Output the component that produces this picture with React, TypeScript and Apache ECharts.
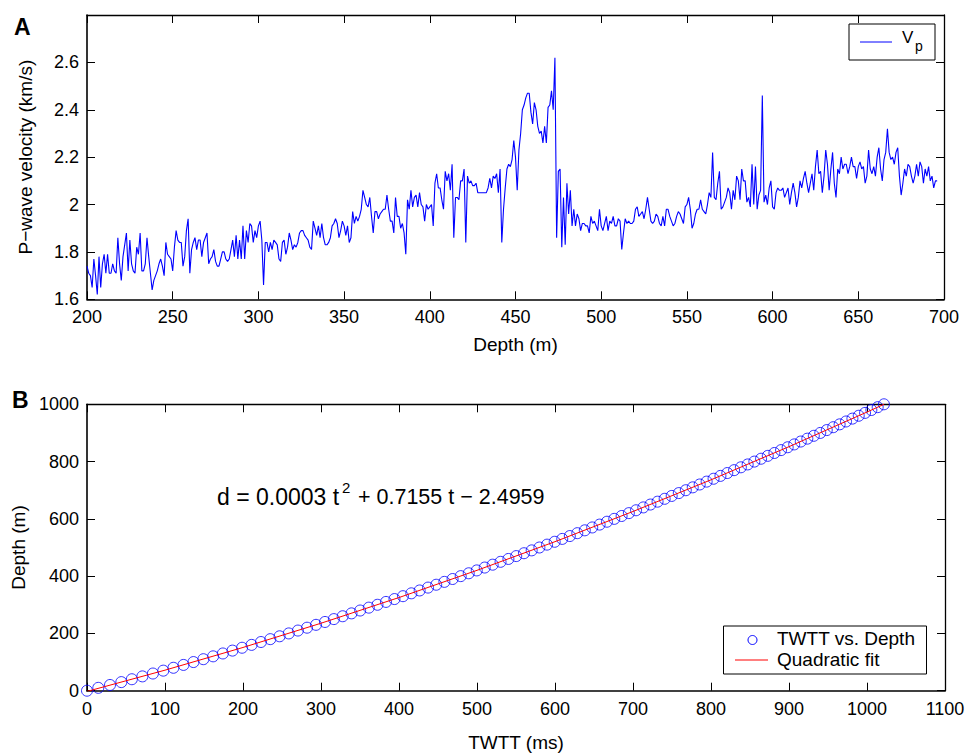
import React, { useEffect, useRef } from "react";
import * as echarts from "echarts";

// ---------- Panel A: P-wave velocity log (km/s), one value per metre from 200 m ----------
const vpDepthStart = 200; // m
const vpDepthStep = 1; // m
const vpValues: number[] = [
  // 200-209
  1.74, 1.71, 1.7, 1.65, 1.77, 1.7, 1.62, 1.78, 1.65, 1.75,
  // 210-219
  1.79, 1.71, 1.79, 1.71, 1.71, 1.75, 1.72, 1.71, 1.86, 1.75,
  // 220-229
  1.68, 1.78, 1.83, 1.88, 1.72, 1.85, 1.75, 1.72, 1.71, 1.82,
  // 230-239
  1.79, 1.88, 1.72, 1.72, 1.75, 1.86, 1.78, 1.71, 1.64, 1.68,
  // 240-249
  1.7, 1.72, 1.75, 1.77, 1.74, 1.7, 1.84, 1.79, 1.78, 1.77,
  // 250-259
  1.72, 1.82, 1.89, 1.85, 1.84, 1.84, 1.74, 1.78, 1.89, 1.94,
  // 260-269
  1.71, 1.81, 1.84, 1.86, 1.81, 1.85, 1.85, 1.78, 1.84, 1.86,
  // 270-279
  1.88, 1.75, 1.77, 1.78, 1.81, 1.76, 1.74, 1.74, 1.77, 1.8,
  // 280-289
  1.8, 1.77, 1.76, 1.77, 1.81, 1.85, 1.78, 1.87, 1.77, 1.85,
  // 290-299
  1.77, 1.91, 1.77, 1.89, 1.84, 1.92, 1.91, 1.84, 1.89, 1.86,
  // 300-309
  1.91, 1.93, 1.85, 1.66, 1.84, 1.84, 1.8, 1.84, 1.81, 1.85,
  // 310-319
  1.84, 1.83, 1.77, 1.76, 1.84, 1.85, 1.79, 1.82, 1.88, 1.85,
  // 320-329
  1.81, 1.83, 1.82, 1.84, 1.88, 1.89, 1.89, 1.87, 1.86, 1.85,
  // 330-339
  1.82, 1.81, 1.93, 1.9, 1.87, 1.91, 1.86, 1.92, 1.86, 1.83,
  // 340-349
  1.83, 1.84, 1.86, 1.91, 1.92, 1.94, 1.92, 1.86, 1.89, 1.93,
  // 350-359
  1.91, 1.87, 1.91, 1.84, 1.86, 1.97, 1.92, 1.95, 1.93, 1.95,
  // 360-369
  1.98, 2.06, 2.03, 2.0, 1.99, 2.03, 1.95, 1.88, 1.97, 1.97,
  // 370-379
  1.94, 1.96, 1.97, 1.98, 1.98, 2.04, 1.98, 1.93, 1.93, 1.88,
  // 380-389
  2.03, 1.95, 1.95, 1.9, 1.92, 1.88, 1.79, 2.02, 1.98, 2.06,
  // 390-399
  1.99, 2.03, 2.04, 1.99, 2.05, 2.0, 1.99, 1.93, 2.0, 1.98,
  // 400-409
  1.99, 2.0, 1.91, 2.09, 2.13, 2.07, 2.07, 2.02, 1.98, 2.14,
  // 410-419
  2.1, 2.13, 2.06, 2.17, 1.86, 2.03, 2.03, 2.02, 2.1, 2.1,
  // 420-429
  2.15, 1.84, 2.12, 2.09, 2.1, 2.08, 2.08, 2.09, 2.05, 2.05,
  // 430-439
  2.05, 2.05, 2.05, 2.05, 2.07, 2.11, 2.07, 2.12, 2.11, 2.13,
  // 440-449
  2.05, 2.15, 1.84, 1.98, 2.07, 2.15, 2.17, 2.16, 2.19, 2.27,
  // 450-459
  2.2, 2.06, 2.23, 2.3, 2.4, 2.42, 2.45, 2.47, 2.47, 2.39,
  // 460-469
  2.34, 2.43, 2.4, 2.33, 2.3, 2.31, 2.26, 2.33, 2.26, 2.41,
  // 470-479
  2.42, 2.48, 2.4, 2.62, 1.86, 2.14, 2.15, 1.82, 2.03, 1.83,
  // 480-489
  2.09, 1.96, 2.06, 1.91, 1.98, 1.91, 1.96, 1.94, 1.89, 1.92,
  // 490-499
  1.92, 1.91, 1.91, 1.88, 1.95, 1.92, 1.93, 1.91, 1.89, 1.98,
  // 500-509
  1.91, 1.89, 1.92, 1.95, 1.89, 1.93, 1.92, 1.95, 1.91, 1.91,
  // 510-519
  1.94, 1.93, 1.81, 1.88, 1.94, 1.92, 1.93, 1.92, 1.92, 1.93,
  // 520-529
  1.98, 1.99, 1.95, 1.96, 1.97, 1.94, 1.98, 2.03, 1.98, 1.93,
  // 530-539
  1.92, 1.93, 1.96, 1.95, 1.92, 1.91, 1.95, 1.91, 1.98, 1.98,
  // 540-549
  1.95, 1.93, 1.91, 1.92, 1.95, 1.97, 1.96, 1.94, 1.92, 1.99,
  // 550-559
  2.0, 2.03, 1.98, 1.9, 1.92, 1.96, 1.98, 1.98, 2.02, 1.98,
  // 560-569
  1.97, 1.96, 2.0, 2.05, 2.03, 2.22, 2.03, 2.02, 2.09, 2.14,
  // 570-579
  1.98, 1.99, 2.01, 2.03, 2.07, 2.05, 1.98, 2.06, 2.02, 2.12,
  // 580-589
  2.1, 2.02, 2.15, 2.1, 2.1, 2.01, 2.03, 1.99, 2.17, 2.0,
  // 590-599
  2.16, 1.98, 2.04, 2.06, 2.46, 2.01, 2.04, 2.0, 2.07, 2.1,
  // 600-609
  1.99, 1.98, 2.05, 2.07, 2.06, 2.06, 2.07, 2.03, 2.05, 2.07,
  // 610-619
  2.0, 2.05, 2.09, 2.05, 1.99, 2.03, 2.1, 2.07, 2.11, 2.14,
  // 620-629
  2.09, 2.05, 2.09, 2.13, 2.06, 2.16, 2.23, 2.13, 2.14, 2.05,
  // 630-639
  2.12, 2.23, 2.17, 2.06, 2.15, 2.22, 2.09, 2.03, 2.15, 2.13,
  // 640-649
  2.2, 2.15, 2.17, 2.17, 2.13, 2.16, 2.2, 2.16, 2.16, 2.11,
  // 650-659
  2.16, 2.18, 2.15, 2.16, 2.09, 2.12, 2.23, 2.15, 2.13, 2.16,
  // 660-669
  2.12, 2.2, 2.24, 2.15, 2.1, 2.19, 2.22, 2.32, 2.22, 2.19,
  // 670-679
  2.2, 2.17, 2.22, 2.24, 2.12, 2.04, 2.09, 2.15, 2.12, 2.17,
  // 680-689
  2.16, 2.12, 2.09, 2.12, 2.17, 2.12, 2.18, 2.16, 2.09, 2.15,
  // 690-696
  2.12, 2.16, 2.1, 2.12, 2.07, 2.1, 2.1,
];

// ---------- Panel B: TWTT (ms) vs depth (m) ----------
const tdDepths: number[] = [
  0, 10, 20, 30, 40, 50, 60, 70, 80, 90,
  100, 110, 120, 130, 140, 150, 160, 170, 180, 190,
  200, 210, 220, 230, 240, 250, 260, 270, 280, 290,
  300, 310, 320, 330, 340, 350, 360, 370, 380, 390,
  400, 410, 420, 430, 440, 450, 460, 470, 480, 490,
  500, 510, 520, 530, 540, 550, 560, 570, 580, 590,
  600, 610, 620, 630, 640, 650, 660, 670, 680, 690,
  700, 710, 720, 730, 740, 750, 760, 770, 780, 790,
  800, 810, 820, 830, 840, 850, 860, 870, 880, 890,
  900, 910, 920, 930, 940, 950, 960, 970, 980, 990,
  1000,
];
const tdTwtt: number[] = [
  0, 14.5, 29.5, 44, 57.5, 71, 84.5, 97.8, 110.8, 123.7,
  136.5, 149.2, 161.7, 174.2, 186.5, 198.8, 211.0, 223.0, 235.0, 246.9,
  258.7, 270.4, 282.1, 293.6, 305.1, 316.5, 327.8, 339.1, 350.2, 361.3,
  372.4, 383.3, 394.2, 405.1, 415.8, 426.5, 437.2, 447.7, 458.2, 468.7,
  479.1, 489.4, 499.7, 509.9, 520.1, 530.2, 540.3, 550.3, 560.2, 570.1,
  580.0, 589.8, 599.6, 609.3, 619.0, 628.6, 638.2, 647.7, 657.2, 666.6,
  676.0, 685.4, 694.7, 703.9, 713.2, 722.3, 731.5, 740.6, 749.6, 758.7,
  767.7, 776.6, 785.5, 794.4, 803.3, 812.1, 820.9, 829.6, 838.3, 847.0,
  855.6, 864.2, 872.8, 881.3, 889.8, 898.3, 906.7, 915.1, 923.5, 931.8,
  940.1, 948.4, 956.7, 964.9, 973.1, 981.3, 989.4, 997.5, 1005.6, 1013.7,
  1021.7,
];
// Quadratic fit curve
const fitTwtt: number[] = [0, 100, 200, 300, 400, 500, 600, 700, 800, 900, 1000, 1022];
const fitDepth: number[] = [-2.5, 71.7, 151.0, 235.6, 325.3, 420.3, 520.4, 625.8, 736.3, 852.1, 973.0, 1000.3];

const FONT = '"Liberation Sans", Arial, Helvetica, sans-serif';
const BLUE = "#0000ff";
const RED = "#ff0000";

const plainNum = (v: number) => String(Math.round(v * 1000) / 1000);

function makeAxis(gridIndex: number, position: string, min: number, max: number, interval: number, showLabel: boolean, extra: any = {}) {
  return {
    gridIndex,
    type: "value",
    position,
    min,
    max,
    interval,
    axisLine: { show: true, onZero: false, lineStyle: { color: "#000", width: showLabel ? 1.6 : 1.3 } },
    axisTick: { show: true, inside: true, length: 8, lineStyle: { color: "#000", width: 1 } },
    axisLabel: { show: showLabel, color: "#000", fontSize: 18, fontFamily: FONT, margin: 8, formatter: plainNum },
    splitLine: { show: false },
    ...extra,
  };
}

export default function App() {
  const ref = useRef<HTMLDivElement>(null);

  useEffect(() => {
    if (!ref.current) return;
    const chart = echarts.init(ref.current, undefined, { renderer: "svg" });

    const vpData = vpValues.map((v, i) => [vpDepthStart + i * vpDepthStep, v]);
    const tdData = tdTwtt.map((t, i) => [t, tdDepths[i]]);
    const fitData = fitTwtt.map((t, i) => [t, fitDepth[i]]);

    const nameStyle = { color: "#000", fontSize: 19, fontFamily: FONT };

    const option: any = {
      animation: false,
      backgroundColor: "#ffffff",
      grid: [
        { left: 87, top: 15, width: 857, height: 284.3 },
        { left: 87, top: 404.3, width: 858, height: 286.4 },
      ],
      xAxis: [
        makeAxis(0, "bottom", 200, 700, 50, true, {
          name: "Depth (m)",
          nameLocation: "middle",
          nameGap: 36,
          nameTextStyle: nameStyle,
          axisLabel: { show: true, color: "#000", fontSize: 18, fontFamily: FONT, margin: 9, formatter: plainNum },
        }),
        makeAxis(0, "top", 200, 700, 50, false),
        makeAxis(1, "bottom", 0, 1100, 100, true, {
          name: "TWTT (ms)",
          nameLocation: "middle",
          nameGap: 42,
          nameTextStyle: nameStyle,
          axisLabel: { show: true, color: "#000", fontSize: 18, fontFamily: FONT, margin: 9, formatter: plainNum },
        }),
        makeAxis(1, "top", 0, 1100, 100, false),
      ],
      yAxis: [
        makeAxis(0, "left", 1.6, 2.8, 0.2, true, {
          name: "P\u2212wave velocity (km/s)",
          nameLocation: "middle",
          nameGap: 52,
          nameTextStyle: nameStyle,
          axisLabel: {
            show: true,
            color: "#000",
            fontSize: 18,
            fontFamily: FONT,
            margin: 8,
            formatter: (v: number) => (v > 2.7 ? "" : String(Math.round(v * 10) / 10)),
          },
        }),
        makeAxis(0, "right", 1.6, 2.8, 0.2, false),
        makeAxis(1, "left", 0, 1000, 200, true, {
          name: "Depth (m)",
          nameLocation: "middle",
          nameGap: 52,
          nameTextStyle: nameStyle,
        }),
        makeAxis(1, "right", 0, 1000, 200, false),
      ],
      series: [
        {
          type: "line",
          xAxisIndex: 0,
          yAxisIndex: 0,
          data: vpData,
          symbol: "none",
          lineStyle: { color: BLUE, width: 1.1 },
          silent: true,
        },
        {
          type: "scatter",
          xAxisIndex: 2,
          yAxisIndex: 2,
          data: tdData,
          symbol: "circle",
          symbolSize: 11,
          itemStyle: { color: "rgba(0,0,0,0)", borderColor: BLUE, borderWidth: 1 },
          silent: true,
        },
        {
          type: "line",
          xAxisIndex: 2,
          yAxisIndex: 2,
          data: fitData,
          symbol: "none",
          lineStyle: { color: RED, width: 1 },
          silent: true,
        },
      ],
      graphic: [
        // panel letters
        { type: "text", left: 14, top: 15, style: { text: "A", font: `bold 23px ${FONT}`, fill: "#000" } },
        { type: "text", left: 12, top: 388, style: { text: "B", font: `bold 23px ${FONT}`, fill: "#000" } },
        // legend A
        {
          type: "rect",
          shape: { x: 849, y: 24, width: 86, height: 36 },
          style: { fill: "#fff", stroke: "#000", lineWidth: 1 },
        },
        { type: "line", shape: { x1: 860, y1: 42, x2: 892, y2: 42 }, style: { stroke: BLUE, lineWidth: 1 } },
        { type: "text", left: 902, top: 29, style: { text: "V", font: `17px ${FONT}`, fill: "#000" } },
        { type: "text", left: 915, top: 39, style: { text: "p", font: `14px ${FONT}`, fill: "#000" } },
        // legend B
        {
          type: "rect",
          shape: { x: 723.5, y: 626, width: 203, height: 48 },
          style: { fill: "#fff", stroke: "#000", lineWidth: 1 },
        },
        {
          type: "circle",
          shape: { cx: 752.5, cy: 640, r: 4.5 },
          style: { fill: "none", stroke: BLUE, lineWidth: 1 },
        },
        { type: "text", left: 777, top: 629, style: { text: "TWTT vs. Depth", font: `19px ${FONT}`, fill: "#000" } },
        { type: "line", shape: { x1: 735, y1: 660, x2: 768, y2: 660 }, style: { stroke: RED, lineWidth: 1 } },
        { type: "text", left: 777, top: 650, style: { text: "Quadratic fit", font: `19px ${FONT}`, fill: "#000" } },
        // equation
        { type: "text", left: 217, top: 485, style: { text: "d = 0.0003 t", font: `23px ${FONT}`, fill: "#000" } },
        { type: "text", left: 342, top: 480, style: { text: "2", font: `15px ${FONT}`, fill: "#000" } },
        { type: "text", left: 358, top: 486, style: { text: "+ 0.7155 t \u2212 2.4959", font: `21.5px ${FONT}`, fill: "#000" } },
      ],
    };

    chart.setOption(option);
    return () => {
      chart.dispose();
    };
  }, []);

  return (
    <div
      ref={ref}
      style={{ position: "absolute", left: 0, top: 0, width: 978, height: 755, background: "#fff" }}
    />
  );
}
